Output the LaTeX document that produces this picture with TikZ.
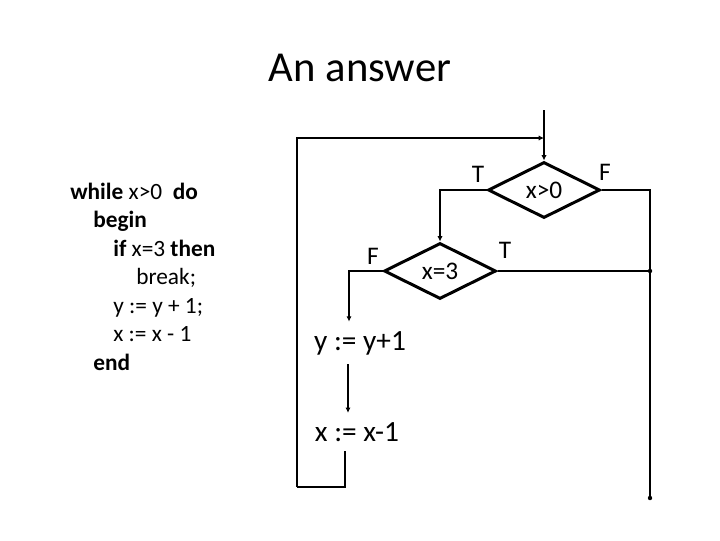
\documentclass[tikz,border=0pt]{standalone}
\usepackage{fontspec}
\setmainfont{Carlito}
\usetikzlibrary{shapes.geometric,arrows.meta}

\begin{document}
\begin{tikzpicture}[x=0.75pt,y=0.75pt,yscale=-1,xscale=1,
  test/.style={draw,diamond,line width=2.25pt,minimum width=84pt,minimum height=42pt,inner sep=0pt,font=\fontsize{19}{19}\selectfont},
  stmt/.style={inner sep=7pt,font=\fontsize{22}{22}\selectfont},
  lab/.style={font=\fontsize{19}{19}\selectfont},
  code/.style={anchor=base west,inner sep=0pt,font=\fontsize{17.5}{20}\selectfont},
  flow/.style={line width=1.5pt},
  thin/.style={line width=0.9pt},
  tip/.style={-{Latex[length=4pt,width=4pt]}}]
\useasboundingbox (0,0) rectangle (720,540);

% Title
\node (title) at (360,68) {\fontsize{32}{32}\selectfont An answer};

% Program text
\node[code] (l1) at (70,199) {\textbf{while} x>0 \ \textbf{do}};
\node[code] (l2) at (93,227.5) {\textbf{begin}};
\node[code] (l3) at (113,256) {\textbf{if} x=3 \textbf{then}};
\node[code] (l4) at (136,284.5) {break;};
\node[code] (l5) at (113,313) {y := y + 1;};
\node[code] (l6) at (113,341.5) {x := x - 1};
\node[code] (l7) at (93,370) {\textbf{end}};

% Flowchart nodes
\node[test] (loop) at (544,190) {x>0};
\node[test] (brk) at (440,271) {x=3};
\node[stmt] (inc) at (360,343) {y := y+1};
\node[stmt] (dec) at (357,432) {x := x-1};
\coordinate (start) at (544,110);
\coordinate (merge) at (544,138);
\coordinate (back) at (297,487);
\coordinate (exit) at (650,498);

% Connectors
\draw[flow,tip] (start) -- (loop.north);
\draw[flow,tip] (loop.west) -| (brk.north);
\draw[flow] (loop.east) -| (exit);
\draw[flow] (brk.east) -- (brk.east -| exit);
\draw[flow,tip] (brk.west) -| ([xshift=-8.25pt]inc.north);
\draw[flow,tip] ([xshift=-9pt]inc.south) -- ([xshift=-6.75pt]dec.north);
\draw[thin] ([xshift=-9pt]dec.south) |- (back);
\draw[flow,tip] (back) |- (merge);
\fill (exit) circle (2.2);
\fill (brk.east -| exit) circle (2.2);

% Branch labels
\node[lab] (t1) at (478,174) {T};
\node[lab] (f1) at (605,172) {F};
\node[lab] (f2) at (373,256) {F};
\node[lab] (t2) at (505,250) {T};

\end{tikzpicture}
\end{document}
